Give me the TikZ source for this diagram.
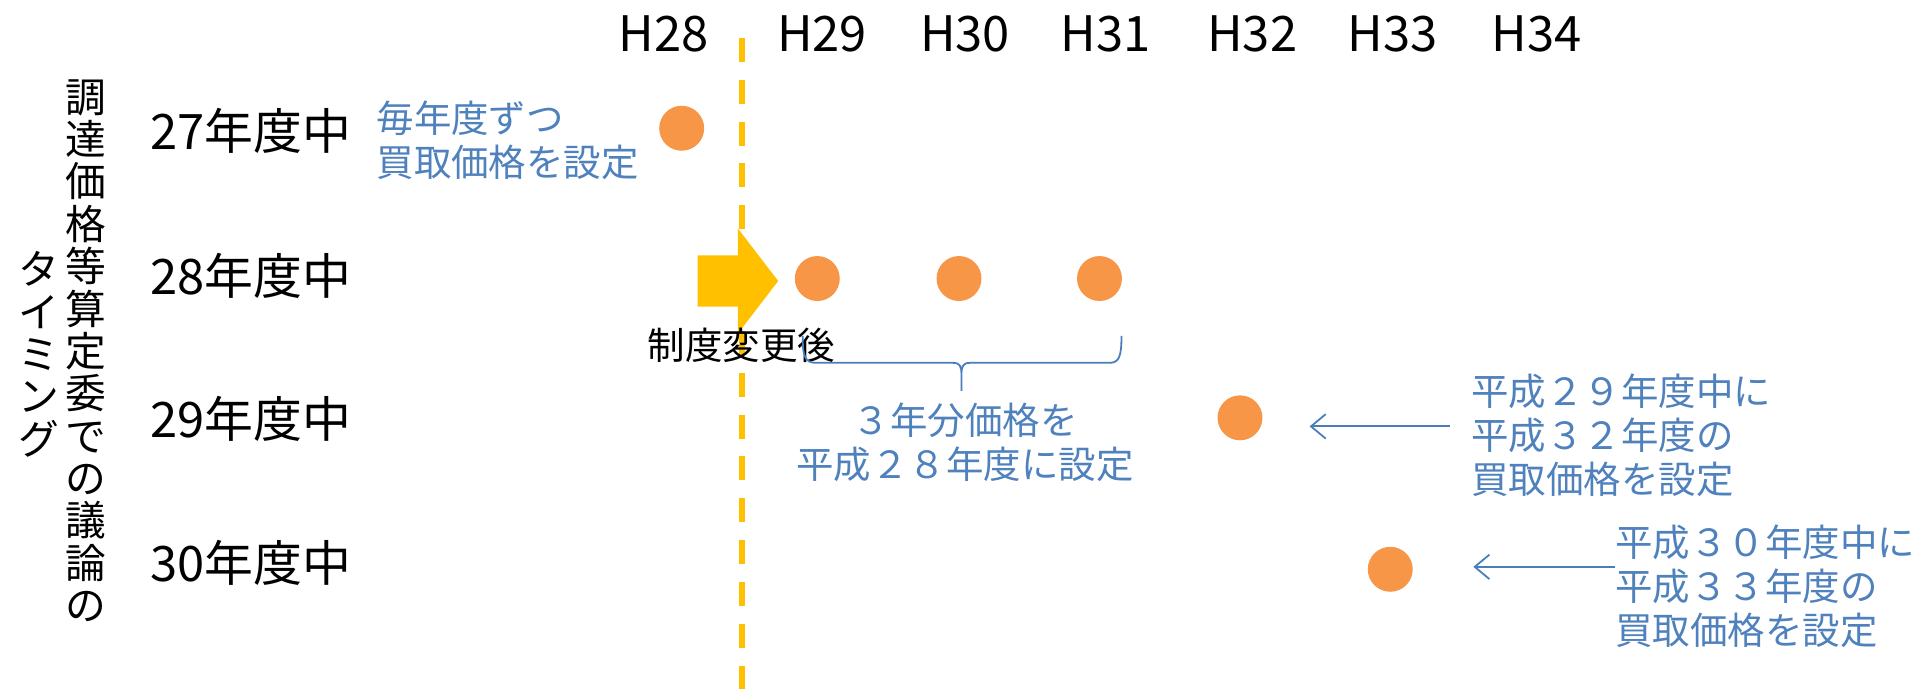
\documentclass[tikz,border=0pt]{standalone}
\usepackage{fontspec}
\setmainfont{Noto Sans CJK JP}
\usetikzlibrary{arrows.meta}
\definecolor{tblue}{HTML}{4F81BD}
\definecolor{lblue}{HTML}{4A7EBB}
\definecolor{dotor}{HTML}{F79646}
\definecolor{gold}{HTML}{FFC000}
\begin{document}
\begin{tikzpicture}[x=0.75pt,y=-0.75pt,
  hdr/.style={font=\fontsize{30}{34}\selectfont, inner sep=0},
  rowlab/.style={font=\fontsize{30}{36}\selectfont, anchor=west, inner sep=0},
  note/.style={font=\fontsize{23}{27}\selectfont, text=tblue, align=left, inner sep=0},
  blk/.style={font=\fontsize{23}{27}\selectfont, inner sep=0},
  vert/.style={font=\fontsize{25}{26}\selectfont, align=center, inner sep=0},
  dotc/.style={circle, fill=dotor, minimum size=27.6pt, inner sep=0},
  ptr/.style={draw=lblue, line width=1.1pt, -{Straight Barb[length=9pt,width=15pt]}},
  brace/.style={draw=lblue, line width=1.1pt},
  dashline/.style={draw=gold, line width=3.75pt, dash pattern=on 14.7pt off 11pt}
]
\useasboundingbox (0,0) rectangle (1570,564);

% headers
\node[hdr] (h28) at (543,28) {H28};
\node[hdr] (h29) at (673,28) {H29};
\node[hdr] (h30) at (790,28) {H30};
\node[hdr] (h31) at (905,28) {H31};
\node[hdr] (h32) at (1025,28) {H32};
\node[hdr] (h33) at (1140,28) {H33};
\node[hdr] (h34) at (1258,28) {H34};

% dashed divider
\coordinate (dtop) at (607,31);
\coordinate (dbot) at (607,564);
\draw[dashline] (dtop) -- (dbot);

% big arrow
\fill[gold] (571,209) -- (604,209) -- (604,187) -- (637,230) -- (604,273) -- (604,251) -- (571,251) -- cycle;

% vertical title
\node[vert] (v1) at (70,287) {調\\達\\価\\格\\等\\算\\定\\委\\で\\の\\議\\論\\の};
\node[vert] (v2) at (32,290) {タ\\イ\\ミ\\ン\\グ};

% row labels
\node[rowlab] (r27) at (123,107) {27年度中};
\node[rowlab] (r28) at (123,226) {28年度中};
\node[rowlab] (r29) at (123,343) {29年度中};
\node[rowlab] (r30) at (123,461) {30年度中};

% dots
\node[dotc] (d27) at (558,105) {};
\node[dotc] (d28a) at (669,228) {};
\node[dotc] (d28b) at (785,228) {};
\node[dotc] (d28c) at (900,228) {};
\node[dotc] (d29) at (1015,342) {};
\node[dotc] (d30) at (1138,466) {};

% notes
\node[note, anchor=west] (n27) at (308,115) {毎年度ずつ\\買取価格を設定};
\node[blk] (seido) at (607,283) {制度変更後};
\node[note, align=center] (n28) at (790,362) {３年分価格を\\平成２８年度に設定};
\node[note, anchor=west] (n29) at (1204,356) {平成２９年度中に\\平成３２年度の\\買取価格を設定};
\node[note, anchor=west] (n30) at (1322,480) {平成３０年度中に\\平成３３年度の\\買取価格を設定};

% brace
\draw[brace] (657,275) .. controls (657,292) and (659,297) .. (668,297) -- (780,297)
  .. controls (786,297) and (787,300) .. (787,307) -- (787,320)
  (787,307) .. controls (787,300) and (788,297) .. (794,297) -- (908,297)
  .. controls (916,297) and (918,292) .. (918,275);

% pointer arrows
\coordinate (a29s) at (1187,349);
\coordinate (a29e) at (1072,349);
\draw[ptr] (a29s) -- (a29e);
\coordinate (a30s) at (1322,464);
\coordinate (a30e) at (1206,464);
\draw[ptr] (a30s) -- (a30e);
\end{tikzpicture}
\end{document}
